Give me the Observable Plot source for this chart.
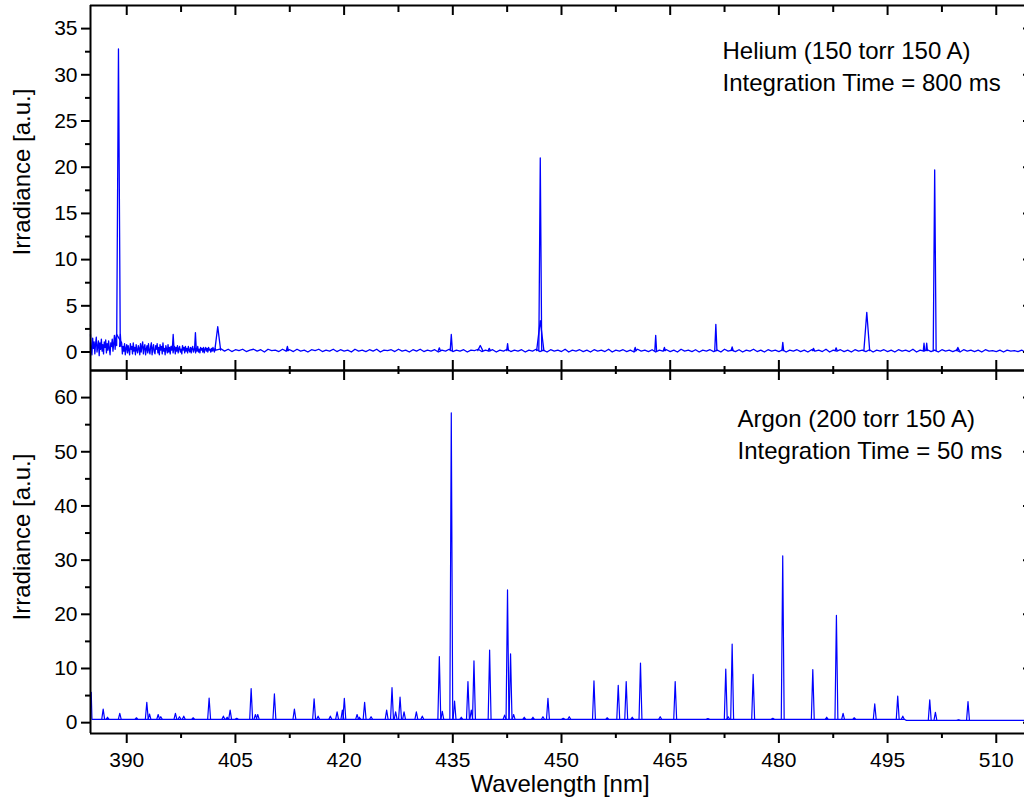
<!DOCTYPE html>
<html>
<head>
<meta charset="utf-8">
<script src="https://cdn.jsdelivr.net/npm/d3@7"></script>
<script src="https://cdn.jsdelivr.net/npm/@observablehq/plot@0.6"></script>
<style>
  body { margin: 0; background: #fff; }
  #wrap { position: relative; width: 1024px; height: 801px; overflow: hidden; background: #fff;
          font-family: 'Liberation Sans', Arial, sans-serif; color: #000; }
  #wrap svg { position: absolute; left: 0; }
  .ylab { position: absolute; font-size: 24px; line-height: 1; white-space: nowrap;
          transform: translate(-50%, -50%) rotate(-90deg); }
  .xlab { position: absolute; font-size: 24px; line-height: 1; white-space: nowrap;
          transform: translate(-50%, 0); }
</style>
</head>
<body>
<div id="wrap"></div>
<script>
// ---------------- DATA ----------------
const xDomain = [385, 515];
const xMajorTicks = [390, 405, 420, 435, 450, 465, 480, 495, 510];
const xMinorTicks = [397.5, 412.5, 427.5, 442.5, 457.5, 472.5, 487.5, 502.5];

const heYDomain = [-2, 37.5];
const heYMajorTicks = [0, 5, 10, 15, 20, 25, 30, 35];
const heYMinorTicks = [2.5, 7.5, 12.5, 17.5, 22.5, 27.5, 32.5];

const arYDomain = [-2, 65];
const arYMajorTicks = [0, 10, 20, 30, 40, 50, 60];
const arYMinorTicks = [5, 15, 25, 35, 45, 55];

const heliumNote = ["Helium (150 torr 150 A)", "Integration Time = 800 ms"];
const argonNote = ["Argon (200 torr 150 A)", "Integration Time = 50 ms"];

// Helium baseline (noisy), sampled on regular wavelength grids
const heNoiseAStartNm = 385.0, heNoiseAStepNm = 0.1;
const heNoiseA = [
  1.9,0.2,-0.3,1.5,0.4,1.1,-0.2,0.9,1.6,0.0,
  0.6,1.2,-0.4,1.0,0.3,1.4,0.1,0.8,-0.2,1.1,
  0.5,1.3,-0.1,0.9,0.2,1.2,0.4,-0.3,1.0,0.6,
  1.4,0.1,0.9,1.8,0.3,1.5,1.9];
const heNoiseBStartNm = 389.3, heNoiseBStepNm = 0.1;
const heNoiseB = [
  1.0,-0.2,0.6,0.1,0.9,-0.3,0.4,0.8,-0.1,0.7,
  0.2,-0.3,0.9,0.3,0.6,-0.2,1.0,0.1,0.5,-0.3,
  0.8,0.2,-0.1,0.7,0.4,-0.3,0.9,0.0,0.6,1.1,
  -0.2,0.5,0.8,-0.3,0.3,0.7,-0.1,0.9,0.2,-0.2,
  0.6,1.0,-0.3,0.4,0.8,0.0,-0.2,0.7,0.3,0.9,
  -0.1,0.5,-0.3,0.8,0.2,0.6,-0.2,1.0,0.1,0.4,
  -0.3,0.7,0.3,-0.1,0.8,0.0,0.5,-0.2,0.6,0.2,
  0.7,-0.1,0.4,0.6,-0.2,0.5,0.1,0.7,-0.1,0.4,
  0.6,0.0,0.3,-0.2,0.7,0.2,0.5,-0.1,0.6,0.1,
  0.4,-0.1,0.6,0.2,0.0,0.5,-0.1,0.4,0.6,0.0,
  0.3,0.5,-0.1,0.4,0.1,0.6,0.0,0.3,-0.1,0.5,
  0.2,0.4,0.0,0.5,-0.1,0.3,0.5,0.1,0.4,0.0,
  0.5,0.2,0.3,0.0,0.4,0.1,0.5,0.2,0.0,0.4,
  0.2];
const heNoiseCStartNm = 403.0, heNoiseCStepNm = 0.5;
const heNoiseC = [
  0.35,0.1,0.3,0.05,0.25,0.15,0.3,0.05,0.2,0.3,0.1,0.25,0.0,0.3,0.15,0.2,0.05,0.3,0.1,0.25,
  0.05,0.3,0.1,0.2,0.0,0.25,0.15,0.3,0.05,0.2,0.1,0.3,0.05,0.25,0.1,0.2,0.0,0.3,0.1,0.2,
  0.05,0.25,0.1,0.3,0.0,0.2,0.15,0.25,0.05,0.3,0.1,0.2,0.0,0.25,0.1,0.3,0.05,0.2,0.1,0.25,
  0.0,0.2,0.1,0.3,0.05,0.2,0.1,0.25,0.0,0.2,0.15,0.3,0.05,0.2,0.1,0.25,0.0,0.2,0.1,0.3,
  0.05,0.2,0.1,0.25,0.0,0.2,0.1,0.3,0.05,0.2,0.0,0.25,0.1,0.2,0.05,0.3,0.0,0.2,0.1,0.25,
  0.05,0.2,0.0,0.25,0.1,0.2,0.05,0.3,0.0,0.2,0.1,0.25,0.05,0.2,0.0,0.3,0.1,0.2,0.05,0.25,
  0.0,0.2,0.1,0.25,0.05,0.2,0.0,0.3,0.1,0.2,0.05,0.25,0.0,0.2,0.1,0.25,0.05,0.2,0.0,0.3,
  0.1,0.2,0.05,0.25,0.0,0.2,0.1,0.3,0.05,0.2,0.0,0.25,0.1,0.2,0.05,0.25,0.0,0.2,0.1,0.25,
  0.05,0.2,0.0,0.25,0.1,0.2,0.05,0.3,0.0,0.2,0.1,0.25,0.05,0.2,0.0,0.25,0.1,0.2,0.05,0.25,
  0.0,0.2,0.1,0.25,0.05,0.2,0.0,0.25,0.1,0.2,0.05,0.3,0.0,0.2,0.1,0.25,0.05,0.2,0.0,0.25,
  0.1,0.2,0.05,0.2,0.0,0.25,0.1,0.2,0.05,0.2,0.0,0.25,0.1,0.15,0.05,0.2,0.0,0.2,0.1,0.15,
  0.05,0.2,0.0,0.15,0.1];

// Helium emission lines
const heLineNm = [388.86, 389.12, 396.41, 399.48, 402.56, 412.17, 433.14, 434.79, 438.79, 440.03,
  442.56, 447.07, 447.07, 460.17, 463.0, 464.2, 471.3, 473.55, 480.54, 484.77,
  487.9, 492.13, 500.03, 500.4, 501.5, 504.7];
const heLineIrr = [32.8, 1.9, 1.9, 2.1, 2.75, 0.6, 0.45, 1.9, 0.7, 0.4,
  0.9, 21.0, 3.4, 0.5, 1.8, 0.5, 3.0, 0.55, 1.05, 0.4,
  0.45, 4.3, 0.95, 0.95, 19.7, 0.5];
const heLineHalfWidth = [0.25, 0.1, 0.12, 0.12, 0.4, 0.15, 0.15, 0.15, 0.35, 0.15,
  0.12, 0.2, 0.5, 0.15, 0.12, 0.15, 0.15, 0.15, 0.12, 0.15,
  0.15, 0.4, 0.1, 0.1, 0.2, 0.2];
const heLineFoot = [0.7, 0.6, 0.3, 0.3, 0.2, 0.15, 0.15, 0.15, 0.15, 0.15,
  0.15, 0.15, 0.15, 0.15, 0.15, 0.15, 0.15, 0.15, 0.15, 0.15,
  0.15, 0.15, 0.15, 0.15, 0.15, 0.15];

// Argon baseline and emission lines
const arBaseNm = [385.1, 385.2, 497.3, 497.6, 515.0];
const arBaseIrr = [5.6, 0.62, 0.62, 0.42, 0.42];
const arLineNm = [386.75, 387.35, 389.04, 391.34, 392.77, 393.14, 394.34, 394.70, 396.72, 397.28,
  397.87, 399.17, 401.37, 403.34, 403.86, 404.27, 405.18, 407.17, 407.76, 408.08,
  410.38, 413.14, 415.86, 416.41, 418.10, 419.03, 419.76, 420.03, 421.79, 422.10,
  422.83, 423.72, 425.87, 426.61, 427.11, 427.72, 428.27, 429.97, 430.79, 433.14,
  433.55, 434.79, 435.24, 436.17, 437.09, 437.55, 437.92, 440.08, 442.15, 442.55,
  442.97, 443.39, 444.86, 446.06, 447.44, 448.13, 450.24, 451.07, 454.48, 456.31,
  457.83, 458.93, 459.76, 460.90, 463.62, 465.69, 470.20, 472.67, 473.0, 473.55,
  476.45, 479.16, 480.53, 484.68, 486.6, 487.94, 488.86, 490.4, 493.23, 496.4,
  497.1, 500.82, 501.6, 504.8, 506.1];
const arLineIrr = [2.5, 1.0, 1.7, 0.9, 3.75, 1.6, 1.5, 1.1, 1.7, 1.1,
  1.2, 0.9, 4.55, 1.2, 1.0, 2.3, 0.8, 6.3, 1.5, 1.5,
  5.3, 2.5, 4.4, 1.2, 1.2, 2.0, 2.3, 4.5, 1.5, 1.0,
  3.75, 1.1, 2.3, 6.45, 2.0, 4.7, 2.0, 2.0, 1.2, 12.2,
  2.1, 57.2, 4.0, 1.0, 7.6, 2.3, 11.4, 13.4, 1.4, 24.5,
  12.7, 1.5, 1.0, 1.0, 1.1, 4.5, 0.8, 1.1, 7.7, 0.9,
  6.9, 7.6, 1.0, 11.0, 1.1, 7.6, 0.75, 9.9, 1.1, 14.5,
  8.9, 0.8, 30.8, 9.8, 1.0, 19.8, 1.7, 0.9, 3.45, 4.9,
  1.2, 4.2, 1.9, 0.55, 3.9];
const arLineHalfWidth = 0.2;

// ---------------- BUILD ----------------
const BLUE = "#0000ff";
const W = 1040, ML = 90, MR = 8;
const innerW = W - ML - MR;

function gridSeries(start, step, vals) {
  return vals.map((v, i) => ({nm: +(start + step * i).toFixed(3), irr: v}));
}
const heBase = [
  ...gridSeries(heNoiseAStartNm, heNoiseAStepNm, heNoiseA),
  ...gridSeries(heNoiseBStartNm, heNoiseBStepNm, heNoiseB),
  ...gridSeries(heNoiseCStartNm, heNoiseCStepNm, heNoiseC)
];
const hePeaks = [];
heLineNm.forEach((c, i) => {
  hePeaks.push({nm: c - heLineHalfWidth[i], irr: heLineFoot[i], id: i});
  hePeaks.push({nm: c, irr: heLineIrr[i], id: i});
  hePeaks.push({nm: c + heLineHalfWidth[i], irr: heLineFoot[i], id: i});
});

const arBase = arBaseNm.map((nm, i) => ({nm, irr: arBaseIrr[i]}));
function arFoot(nm) {
  let v = arBaseIrr[0];
  for (let i = 0; i < arBaseNm.length; i++) if (arBaseNm[i] <= nm) v = arBaseIrr[i];
  return v;
}
const arPeaks = [];
arLineNm.forEach((c, i) => {
  const f = arFoot(c);
  arPeaks.push({nm: c - arLineHalfWidth, irr: f, id: i});
  arPeaks.push({nm: c, irr: arLineIrr[i], id: i});
  arPeaks.push({nm: c + arLineHalfWidth, irr: f, id: i});
});

const svgStyle = "background: transparent; overflow: visible; max-width: none; font-size: 21px; font-family: 'Liberation Sans', Arial, sans-serif; color: #000;";
const id = d => d;

// Top panel (Helium)
const topH = 370, topMT = 5, topMB = 0;
const topInner = topH - topMT - topMB;
const topPlot = Plot.plot({
  width: W, height: topH, marginTop: topMT, marginBottom: topMB, marginLeft: ML, marginRight: MR,
  style: svgStyle,
  x: {domain: xDomain, axis: null},
  y: {domain: heYDomain},
  marks: [
    Plot.line(heBase, {x: "nm", y: "irr", stroke: BLUE, strokeWidth: 1.3}),
    Plot.line(hePeaks, {x: "nm", y: "irr", z: "id", stroke: BLUE, strokeWidth: 1.3}),
    Plot.ruleY([heYDomain[0], heYDomain[1]], {stroke: "#000", strokeWidth: 2}),
    Plot.ruleX([xDomain[0]], {stroke: "#000", strokeWidth: 2}),
    Plot.tickX(xMajorTicks, {x: id, insetBottom: topInner - 10, strokeWidth: 2}),
    Plot.tickX(xMinorTicks, {x: id, insetBottom: topInner - 7, strokeWidth: 2}),
    Plot.tickX(xMajorTicks, {x: id, insetTop: topInner - 10, strokeWidth: 2}),
    Plot.tickX(xMinorTicks, {x: id, insetTop: topInner - 4, strokeWidth: 2}),
    Plot.axisY(heYMajorTicks, {anchor: "left", tickSize: 9, tickPadding: 4, label: null, strokeWidth: 2}),
    Plot.axisY(heYMinorTicks, {anchor: "left", tickSize: 5, tickFormat: () => "", label: null, strokeWidth: 2}),
    Plot.tickY(heYMajorTicks, {y: id, insetLeft: innerW - 9, strokeWidth: 2}),
    Plot.tickY(heYMinorTicks, {y: id, insetLeft: innerW - 5, strokeWidth: 2}),
    Plot.text([heliumNote[0]], {text: id, frameAnchor: "top-left", textAnchor: "start", lineAnchor: "top", dx: 632, dy: 36, fontSize: 24, fill: "#000"}),
    Plot.text([heliumNote[1]], {text: id, frameAnchor: "top-left", textAnchor: "start", lineAnchor: "top", dx: 632, dy: 68, fontSize: 24, fill: "#000"})
  ]
});
topPlot.style.top = "0px";

// Bottom panel (Argon)
const botH = 431, botMT = 0, botMB = 68;
const botInner = botH - botMT - botMB;
const botPlot = Plot.plot({
  width: W, height: botH, marginTop: botMT, marginBottom: botMB, marginLeft: ML, marginRight: MR,
  style: svgStyle,
  x: {domain: xDomain},
  y: {domain: arYDomain},
  marks: [
    Plot.line(arBase, {x: "nm", y: "irr", stroke: BLUE, strokeWidth: 1.2}),
    Plot.line(arPeaks, {x: "nm", y: "irr", z: "id", stroke: BLUE, strokeWidth: 1.2}),
    Plot.ruleY([arYDomain[0], arYDomain[1]], {stroke: "#000", strokeWidth: 2}),
    Plot.ruleX([xDomain[0]], {stroke: "#000", strokeWidth: 2}),
    Plot.tickX(xMajorTicks, {x: id, insetBottom: botInner - 10, strokeWidth: 2}),
    Plot.tickX(xMinorTicks, {x: id, insetBottom: botInner - 4, strokeWidth: 2}),
    Plot.axisX(xMajorTicks, {anchor: "bottom", tickSize: 10, tickPadding: 9, label: null, strokeWidth: 2}),
    Plot.axisX(xMinorTicks, {anchor: "bottom", tickSize: 5, tickFormat: () => "", label: null, strokeWidth: 2}),
    Plot.axisY(arYMajorTicks, {anchor: "left", tickSize: 9, tickPadding: 4, label: null, strokeWidth: 2}),
    Plot.axisY(arYMinorTicks, {anchor: "left", tickSize: 5, tickFormat: () => "", label: null, strokeWidth: 2}),
    Plot.tickY(arYMajorTicks, {y: id, insetLeft: innerW - 9, strokeWidth: 2}),
    Plot.tickY(arYMinorTicks, {y: id, insetLeft: innerW - 5, strokeWidth: 2}),
    Plot.text([argonNote[0]], {text: id, frameAnchor: "top-left", textAnchor: "start", lineAnchor: "top", dx: 647, dy: 39, fontSize: 24, fill: "#000"}),
    Plot.text([argonNote[1]], {text: id, frameAnchor: "top-left", textAnchor: "start", lineAnchor: "top", dx: 647, dy: 71, fontSize: 24, fill: "#000"})
  ]
});
botPlot.style.top = "370px";

const wrap = document.getElementById("wrap");
wrap.appendChild(topPlot);
wrap.appendChild(botPlot);

function addLabel(cls, text, left, top) {
  const d = document.createElement("div");
  d.className = cls;
  d.textContent = text;
  d.style.left = left + "px";
  d.style.top = top + "px";
  wrap.appendChild(d);
}
addLabel("ylab", "Irradiance [a.u.]", 22, 172);
addLabel("ylab", "Irradiance [a.u.]", 22, 537);
addLabel("xlab", "Wavelength [nm]", 560, 772);
</script>
</body>
</html>
